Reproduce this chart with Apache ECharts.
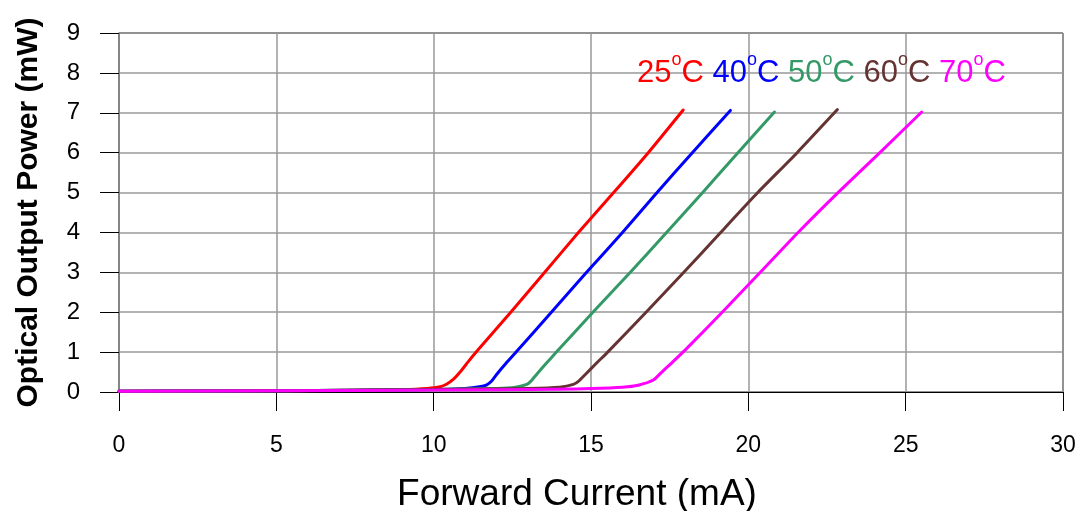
<!DOCTYPE html>
<html>
<head>
<meta charset="utf-8">
<script src="https://cdn.jsdelivr.net/npm/echarts@6/dist/echarts.min.js"></script>
<style>
html,body{margin:0;padding:0;background:#fff;}
#chart{width:1078px;height:511px;}
</style>
</head>
<body>
<div id="chart"></div>
<script>
// Series names and colours
var seriesNames = ['25', '40', '50', '60', '70'];
var seriesColors = ['#FF0000', '#0000FF', '#339966', '#663333', '#FF00FF'];

// Forward current (mA) vs optical output power (mW)
var curve25 = [[0,0.02],[5,0.03],[8,0.05],[9,0.06],[9.8,0.09],[10.2,0.13],[10.42,0.2],[10.63,0.32],[10.84,0.5],[11.1,0.76],[11.37,1.02],[12.45,2.0],[13.53,3.0],[14.6,4.0],[15.72,5.0],[16.82,6.0],[17.93,7.07]];
var curve40 = [[0,0.02],[5,0.03],[10,0.06],[11,0.09],[11.45,0.13],[11.69,0.18],[11.85,0.28],[12.0,0.44],[12.3,0.72],[12.62,1.0],[13.74,2.0],[14.86,3.0],[16.0,4.0],[17.1,5.0],[18.22,6.0],[19.43,7.06]];
var curve50 = [[0,0.02],[5,0.03],[10,0.06],[12,0.09],[12.6,0.12],[12.96,0.19],[13.1,0.28],[13.27,0.44],[13.58,0.72],[13.9,1.0],[15.06,2.0],[16.25,3.0],[17.4,4.0],[18.55,5.0],[19.67,6.0],[20.83,7.02]];
var curve60 = [[0,0.02],[5,0.03],[10,0.06],[13,0.09],[14,0.12],[14.44,0.19],[14.62,0.28],[14.82,0.44],[15.17,0.72],[15.53,1.0],[16.75,2.0],[17.95,3.0],[19.12,4.0],[20.3,5.0],[21.55,6.0],[22.83,7.08]];
var curve70 = [[0,0.02],[5,0.03],[10,0.05],[14,0.07],[15,0.085],[16,0.12],[16.5,0.17],[16.98,0.3],[17.25,0.5],[17.55,0.72],[17.99,1.05],[19.17,2.0],[20.38,3.0],[21.58,4.0],[22.85,5.0],[24.18,6.0],[25.51,7.02]];
var curves = [curve25, curve40, curve50, curve60, curve70];

var xTicks = {min: 0, max: 30, interval: 5};
var yTicks = {min: 0, max: 9, interval: 1};

var FONT = 'Liberation Sans, Arial, sans-serif';

var rich = {};
var legendParts = [];
seriesNames.forEach(function (n, i) {
  rich['d' + i] = {fontSize: 31, lineHeight: 44, color: seriesColors[i], fontFamily: FONT};
  rich['s' + i] = {fontSize: 18, lineHeight: 18, verticalAlign: 'top', color: seriesColors[i], fontFamily: FONT};
  legendParts.push('{d' + i + '|' + n + '}{s' + i + '|o}{d' + i + '|C}');
});

var chart = echarts.init(document.getElementById('chart'), null, {renderer: 'canvas'});
chart.setOption({
  backgroundColor: '#ffffff',
  animation: false,
  title: {
    text: legendParts.join(' '),
    left: 637,
    top: 51,
    padding: 0,
    textStyle: {fontSize: 31, lineHeight: 44, fontWeight: 'normal', fontFamily: FONT, color: '#000', rich: rich}
  },
  grid: {
    left: 119, right: 15, top: 33, bottom: 119,
    containLabel: false,
    outerBoundsMode: 'none',
    show: true, borderColor: '#000', borderWidth: 1, backgroundColor: 'transparent'
  },
  xAxis: {
    type: 'value',
    min: xTicks.min, max: xTicks.max, interval: xTicks.interval,
    name: 'Forward Current (mA)',
    nameLocation: 'middle',
    nameGap: 84,
    nameTextStyle: {fontSize: 37, color: '#000', fontFamily: FONT, padding: [0, 28, 0, 0]},
    axisLine: {show: true, onZero: false, lineStyle: {color: '#000', width: 1}},
    axisTick: {show: true, inside: false, length: 19, lineStyle: {color: '#000', width: 1}},
    axisLabel: {fontSize: 23, color: '#000', margin: 42, fontFamily: FONT},
    splitLine: {show: true, lineStyle: {color: '#999', width: 1.5}}
  },
  yAxis: {
    type: 'value',
    min: yTicks.min, max: yTicks.max, interval: yTicks.interval,
    name: 'Optical Output Power (mW)',
    nameLocation: 'middle',
    nameGap: 75,
    nameTextStyle: {fontSize: 30, fontWeight: 'bold', color: '#000', fontFamily: FONT},
    axisLine: {show: true, lineStyle: {color: '#808080', width: 1.5}},
    axisTick: {show: true, inside: false, length: 19, lineStyle: {color: '#000', width: 1}},
    axisLabel: {fontSize: 24, color: '#000', margin: 39, fontFamily: FONT},
    splitLine: {show: true, lineStyle: {color: '#999', width: 1.5}}
  },
  series: curves.map(function (c, i) {
    return {
      name: seriesNames[i] + '°C',
      type: 'line',
      data: c,
      showSymbol: false,
      smooth: 0.2,
      lineStyle: {color: seriesColors[i], width: 3, join: 'round', cap: 'round'},
      itemStyle: {color: seriesColors[i]},
      z: 2 + i
    };
  })
});
</script>
</body>
</html>
